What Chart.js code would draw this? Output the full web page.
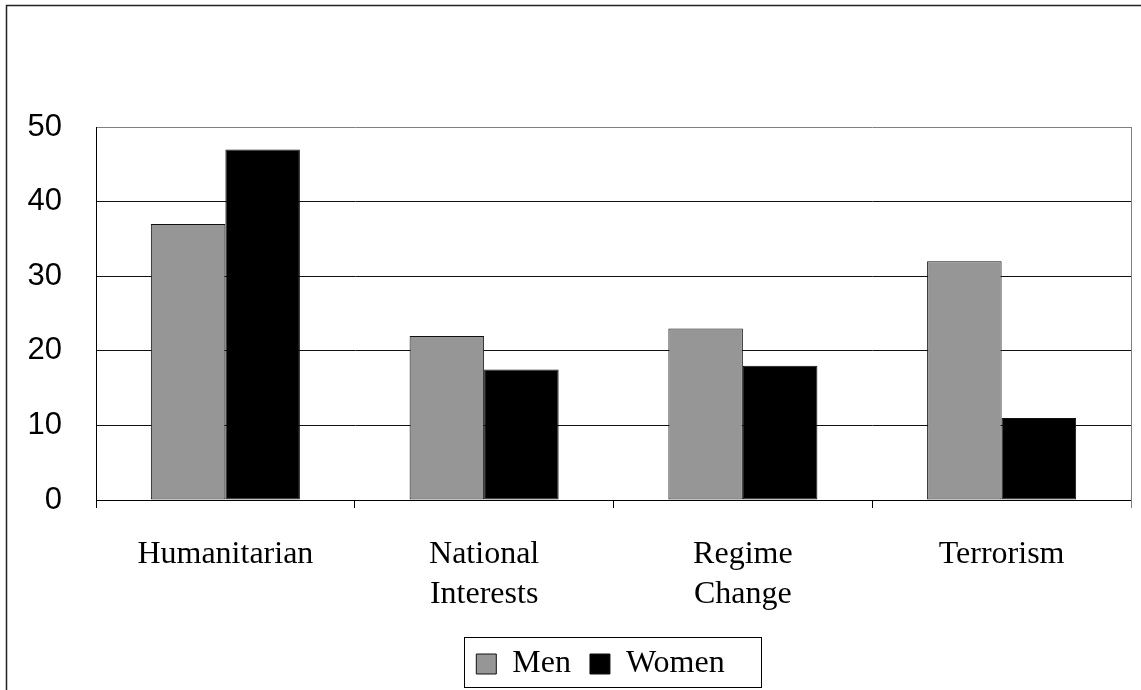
<!DOCTYPE html>
<html>
<head>
<meta charset="utf-8">
<script src="https://cdn.jsdelivr.net/npm/chart.js@4.4.1/dist/chart.umd.min.js"></script>
<style>
  html, body { margin: 0; padding: 0; background: #fff; overflow: hidden; }
  #wrap { width: 1141px; height: 690px; position: relative; }
</style>
</head>
<body>
<div id="wrap"><canvas id="chart" width="1141" height="690"></canvas></div>
<script>
// Reasons for war support, by gender (%)
const categories = ['Humanitarian', ['National', 'Interests'], ['Regime', 'Change'], 'Terrorism'];
const menValues = [37, 22, 23, 32];
const womenValues = [47, 17.5, 18, 11];
const seriesNames = ['Men', 'Women'];
const yMin = 0;
const yMax = 50;
const yStep = 10;

// Outer frame, plot-area edge and the box around the legend
const framePlugin = {
  id: 'framePlugin',
  beforeDraw(chart) {
    const ctx = chart.ctx;
    ctx.save();
    ctx.fillStyle = '#fff';
    ctx.fillRect(0, 0, chart.width, chart.height);
    ctx.strokeStyle = '#222';
    ctx.lineWidth = 1.5;
    ctx.strokeRect(6.5, 5.5, chart.width + 20, chart.height + 20);
    ctx.restore();
  },
  afterLayout(chart) {
    // centre the legend under the plot area rather than the whole canvas
    const lg = chart.legend;
    if (lg) { lg.left += 25; lg.right += 25; }
  },
  afterDraw(chart) {
    const ctx = chart.ctx;
    const a = chart.chartArea;
    ctx.save();
    ctx.strokeStyle = '#808080';
    ctx.lineWidth = 1;
    ctx.beginPath();
    ctx.moveTo(Math.round(a.right) + 0.5, a.top);
    ctx.lineTo(Math.round(a.right) + 0.5, a.bottom + 8);
    ctx.stroke();

    const lg = chart.legend;
    const hb = lg.legendHitBoxes;
    if (hb && hb.length) {
      const first = hb[0];
      const last = hb[hb.length - 1];
      const l = first.left - 12;
      const r = last.left + last.width + 37;
      const t = first.top - 11;
      const b = first.top + 39;
      ctx.strokeStyle = '#000';
      ctx.lineWidth = 1;
      ctx.strokeRect(Math.round(l) + 0.5, Math.round(t) + 0.5, Math.round(r - l), Math.round(b - t));
    }
    ctx.restore();
  }
};

new Chart(document.getElementById('chart'), {
  type: 'bar',
  data: {
    labels: categories,
    datasets: [
      {
        label: seriesNames[0],
        data: menValues,
        backgroundColor: '#969696',
        borderColor: '#111',
        borderWidth: 1,
        borderSkipped: false
      },
      {
        label: seriesNames[1],
        data: womenValues,
        backgroundColor: '#000',
        borderColor: '#111',
        borderWidth: 1,
        borderSkipped: false
      }
    ]
  },
  options: {
    responsive: false,
    animation: false,
    events: [],
    datasets: {
      bar: { categoryPercentage: 0.576, barPercentage: 1 }
    },
    layout: { padding: { left: 20, right: 10, top: 127, bottom: 0 } },
    plugins: {
      tooltip: { enabled: false },
      title: { display: false },
      legend: {
        display: true,
        position: 'bottom',
        align: 'center',
        labels: {
          boxWidth: 20,
          boxHeight: 20,
          padding: 19,
          color: '#000',
          font: { family: 'Liberation Serif', size: 32 }
        }
      }
    },
    scales: {
      x: {
        offset: true,
        grid: {
          offset: true,
          drawOnChartArea: false,
          drawTicks: true,
          tickLength: 8,
          color: '#000',
          lineWidth: 1
        },
        border: { display: true, color: '#000', width: 1 },
        ticks: {
          autoSkip: false,
          maxRotation: 0,
          minRotation: 0,
          padding: 27,
          color: '#000',
          font: { family: 'Liberation Serif', size: 32, lineHeight: 1.25 }
        },
        afterFit(scale) { scale.height = 129; }
      },
      y: {
        min: yMin,
        max: yMax,
        grid: {
          drawTicks: false,
          color: (c) => (c.tick && c.tick.value === yMax ? '#808080' : '#111'),
          lineWidth: 1
        },
        border: { display: true, color: '#000', width: 1 },
        ticks: {
          stepSize: yStep,
          padding: 34,
          color: '#000',
          font: { family: 'Liberation Sans', size: 31 }
        },
        afterFit(scale) { scale.width = 76; }
      }
    }
  },
  plugins: [framePlugin]
});
</script>
</body>
</html>
